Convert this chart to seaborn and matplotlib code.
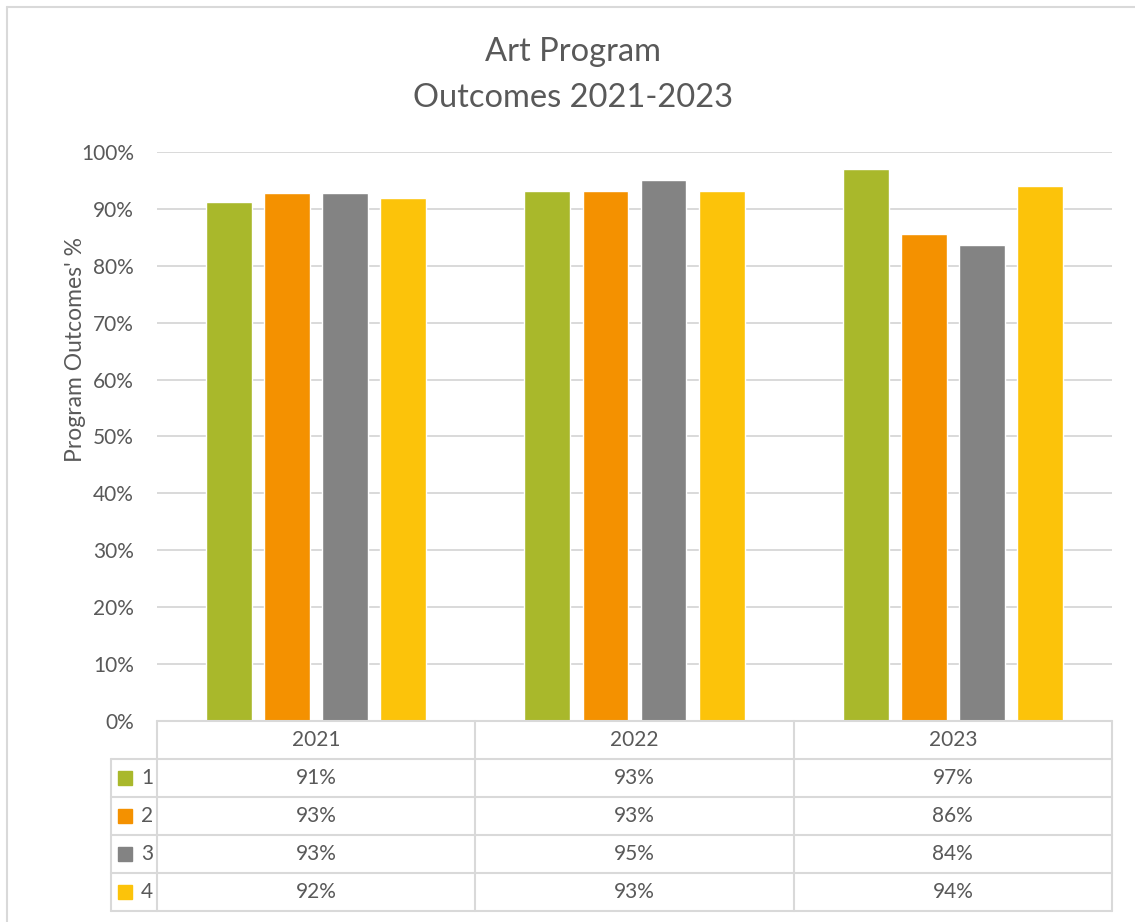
import matplotlib
matplotlib.use("Agg")
import matplotlib.pyplot as plt
from matplotlib.lines import Line2D
from matplotlib.ticker import PercentFormatter
import seaborn as sns
import pandas as pd

# ---- data ----
years = ["2021", "2022", "2023"]
series_names = ["1", "2", "3", "4"]
s1 = [0.912, 0.931, 0.970]
s2 = [0.928, 0.931, 0.856]
s3 = [0.928, 0.950, 0.836]
s4 = [0.919, 0.931, 0.941]
colors = ["#A9B82B", "#F49100", "#838383", "#FCC30A"]
title_lines = ["Art Program", "Outcomes 2021-2023"]
ylabel = "Program Outcomes' %"

all_series = [s1, s2, s3, s4]
rows = []
for name, vals in zip(series_names, all_series):
    for y, v in zip(years, vals):
        rows.append({"year": y, "series": name, "value": v})
df = pd.DataFrame(rows)

sns.set_theme(style="white")
plt.rcParams["font.family"] = ["Lato", "DejaVu Sans"]
TXT = "#595959"
GRID = "#D9D9D9"
FS = 15

W, H = 1135, 922
fig = plt.figure(figsize=(W / 100, H / 100), dpi=100)

def fx(px):
    return px / W

def fy(py):
    return 1 - py / H

ax_l, ax_r, ax_t_, ax_b = 157, 1112, 152, 721
ax = fig.add_axes([fx(ax_l), fy(ax_b), fx(ax_r - ax_l), (ax_b - ax_t_) / H])

sns.barplot(data=df, x="year", y="value", hue="series", palette=colors,
            width=0.73, gap=0.21, saturation=1, ax=ax, legend=False)

ax.set_ylim(0, 1)
ax.set_xlim(-0.5, 2.5)
ax.set_yticks([i / 10 for i in range(11)])
ax.yaxis.set_major_formatter(PercentFormatter(1.0, decimals=0))
ax.yaxis.grid(True, color=GRID, lw=1.4)
ax.set_axisbelow(True)
for sp in ax.spines.values():
    sp.set_visible(False)
ax.tick_params(axis="y", length=0, pad=16.5, labelsize=FS, labelcolor=TXT)
ax.tick_params(axis="x", length=0, labelbottom=False)
ax.set_xlabel("")
ax.set_ylabel("")
fig.text(fx(75), fy(349), ylabel, rotation=90, ha="center", va="center",
         fontsize=16.5, color=TXT)

# ---- title ----
fig.text(fx(573), fy(52), title_lines[0], ha="center", va="center", fontsize=23.5, color=TXT)
fig.text(fx(573), fy(98), title_lines[1], ha="center", va="center", fontsize=23.5, color=TXT)

# ---- data table ----
unit = (ax_r - ax_l) / 3.0  # pixels per category
leg_w = 157 - 111
x0 = -0.5 - leg_w / unit
tab = fig.add_axes([fx(111), fy(911), fx(ax_r - 111), 190 / H])
tab.set_xlim(x0, 2.5)
tab.set_ylim(5, 0)
tab.axis("off")
lw = 1.5
tab.plot([-0.5, 2.5], [0, 0], color=GRID, lw=lw, clip_on=False)
for r in range(1, 6):
    tab.plot([x0, 2.5], [r, r], color=GRID, lw=lw, clip_on=False)
for c in [-0.5, 0.5, 1.5, 2.5]:
    tab.plot([c, c], [0, 5], color=GRID, lw=lw, clip_on=False)
tab.plot([x0, x0], [1, 5], color=GRID, lw=lw, clip_on=False)

for j, y in enumerate(years):
    tab.text(j, 0.5, y, ha="center", va="center", fontsize=FS, color=TXT)
for i, (name, vals, col) in enumerate(zip(series_names, all_series, colors)):
    r = i + 1.5
    tab.plot([x0 + 14 / unit], [r], marker="s", ms=10, color=col, clip_on=False)
    tab.text(x0 + 36 / unit, r, name, ha="center", va="center", fontsize=FS, color=TXT)
    for j, v in enumerate(vals):
        tab.text(j, r, f"{round(v * 100):d}%", ha="center", va="center",
                 fontsize=FS, color=TXT)

# ---- outer chart border (partially visible) ----
fig.add_artist(Line2D([fx(7), fx(7)], [fy(7), 0], color=GRID, lw=1.5))
fig.add_artist(Line2D([fx(7), 1], [fy(7), fy(7)], color=GRID, lw=1.5))

fig.savefig("out.png", dpi=100, facecolor="white")
